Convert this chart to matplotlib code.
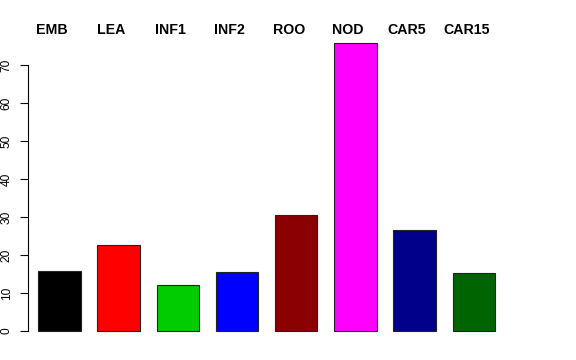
import matplotlib
matplotlib.use("Agg")
import matplotlib.pyplot as plt

categories = ["EMB", "LEA", "INF1", "INF2", "ROO", "NOD", "CAR5", "CAR15"]
values = [15.8, 22.6, 12.0, 15.5, 30.5, 75.8, 26.6, 15.2]
colors = ["#000000", "#FF0000", "#00CD00", "#0000FF", "#8B0000", "#FF00FF", "#00008B", "#006400"]
yticks = [0, 10, 20, 30, 40, 50, 60, 70]

W, H = 576, 360
fig = plt.figure(figsize=(W / 100, H / 100), dpi=100)

# pixel mapping: x: bar i center at 59.5 + 59.17*i ; y: 0 at 331, 3.8 px/unit
ax_left, ax_right = 28, 560
ax_bottom, ax_top = 345, 30  # pixel rows (top-origin)
ax = fig.add_axes([ax_left / W, 1 - ax_bottom / H, (ax_right - ax_left) / W, (ax_bottom - ax_top) / H])
xs = list(range(len(categories)))
b = 59.17
ax.set_xlim((ax_left - 59.5) / b, (ax_right - 59.5) / b)
ax.set_ylim(-(ax_bottom - 331) / 3.8, (331 - ax_top) / 3.8)

ax.bar(xs, values, width=0.716, color=colors, edgecolor="#222222", linewidth=0.8)

for s in ["top", "right", "bottom"]:
    ax.spines[s].set_visible(False)
ax.spines["left"].set_bounds(0, 70)
ax.spines["left"].set_linewidth(0.8)
ax.set_xticks([])
ax.set_yticks(yticks)
ax.set_yticklabels([str(v) for v in yticks], rotation=90, va="center",
                   fontsize=8.6, family="Liberation Sans")
ax.tick_params(axis="y", length=6, width=0.8, pad=5)

for x, c in zip(xs, categories):
    fig.text((59.5 + b * x - 7.5) / W, 1 - 30 / H, c, ha="center", va="center",
             fontsize=10.2, fontweight="bold", family="Liberation Sans")

fig.savefig("out.png", dpi=100)
